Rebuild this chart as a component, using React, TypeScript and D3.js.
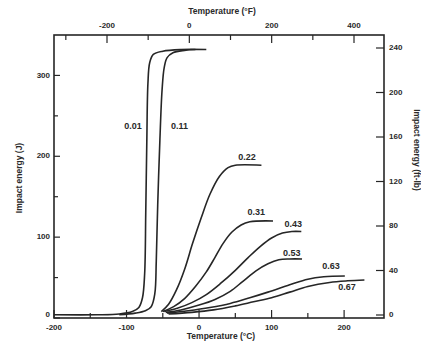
import React, { useEffect, useRef } from 'react';
import * as d3 from 'd3';

// carbon content labels (wt% C)
const carbon = ['0.01', '0.11', '0.22', '0.31', '0.43', '0.53', '0.63', '0.67'];

// [temperature °C, impact energy J]
const c001 = [[-200, 4], [-140, 4], [-110, 5], [-92, 8], [-83, 13], [-78, 25], [-75, 55], [-73.5, 130], [-72, 220], [-70.5, 290], [-68, 316], [-63, 326], [-50, 330], [-25, 332], [10, 332]];
const c011 = [[-110, 4], [-88, 6], [-74, 9], [-66, 14], [-61, 30], [-59, 70], [-57, 140], [-54, 220], [-51, 282], [-48, 310], [-44, 322], [-36, 328], [-20, 331], [-5, 332]];
const c022 = [[-52, 8], [-42, 17], [-31, 35], [-20, 60], [-9, 92], [3, 124], [15, 153], [28, 175], [40, 186], [50, 189], [86, 189]];
const c031 = [[-50, 8], [-35, 14], [-20, 24], [-5, 39], [10, 57], [22, 75], [33, 92], [45, 106], [58, 115], [70, 119], [102, 120]];
const c043 = [[-48, 8], [-30, 12], [-10, 19], [10, 29], [30, 43], [50, 59], [68, 75], [85, 89], [100, 99], [115, 105], [128, 107], [141, 107]];
const c053 = [[-46, 7], [-25, 10], [0, 16], [22, 23], [43, 33], [60, 45], [78, 58], [95, 67], [110, 72], [125, 73], [142, 73]];
const c063 = [[-44, 6], [-15, 9], [15, 13], [43, 18], [70, 25], [95, 32], [125, 41], [150, 48], [172, 51], [201, 52]];
const c067 = [[-42, 5], [-10, 7], [20, 10], [50, 15], [75, 20], [100, 25], [125, 32], [150, 39], [180, 44], [205, 46], [228, 47]];
const series = [c001, c011, c022, c031, c043, c053, c063, c067];

// where each label sits, in data units [°C, J]
const labelAt = [[-91, 237], [-27, 237], [66, 198], [79, 130], [130, 116], [128, 80], [182, 63], [204, 38]];

// axis ticks
const cTicks = [-200, -150, -100, -50, 0, 50, 100, 150, 200];
const cLabels = [-200, -100, 0, 100, 200];
const fTicks = [-300, -200, -100, 0, 100, 200, 300, 400];
const fLabels = [-200, 0, 200, 400];
const jTicks = [0, 50, 100, 150, 200, 250, 300];
const jLabels = [0, 100, 200, 300];
const ftTicks = [0, 40, 80, 120, 160, 200, 240];

const App = () => {
  const ref = useRef<SVGSVGElement>(null);

  useEffect(() => {
    const svg = d3.select(ref.current);
    svg.selectAll('*').remove();

    const ink = '#262626';
    const font = 'Liberation Sans, Arial, sans-serif';

    const x = d3.scaleLinear().domain([-200, 255]).range([54, 384]);
    const y = d3.scaleLinear().domain([0, 350]).range([318, 35]);
    const yFt = d3.scaleLinear().domain([0, 240]).range([315, 48]);
    const xF = d3.scaleLinear().domain([-200, 400]).range([107, 354]);

    svg.append('rect').attr('width', 421).attr('height', 344).attr('fill', '#fff');

    // frame
    svg.append('rect')
      .attr('x', x(-200)).attr('y', y(350))
      .attr('width', x(255) - x(-200)).attr('height', y(0) - y(350))
      .attr('fill', 'none').attr('stroke', ink).attr('stroke-width', 1.6);

    const g = svg.append('g').attr('stroke', ink).attr('stroke-width', 1.2);

    // bottom °C ticks (inward)
    cTicks.forEach(t => {
      const len = cLabels.includes(t) ? 8 : 5;
      g.append('line').attr('x1', x(t)).attr('x2', x(t)).attr('y1', y(0)).attr('y2', y(0) - len);
    });
    // top °F ticks (inward)
    fTicks.forEach(t => {
      const len = fLabels.includes(t) ? 8 : 5;
      g.append('line').attr('x1', xF(t)).attr('x2', xF(t)).attr('y1', y(350)).attr('y2', y(350) + len);
    });
    // left J ticks
    jTicks.forEach(t => {
      const len = jLabels.includes(t) ? 6 : 4;
      g.append('line').attr('x1', x(-200)).attr('x2', x(-200) + len).attr('y1', y(t)).attr('y2', y(t));
    });
    // right ft-lb ticks
    ftTicks.forEach(t => {
      g.append('line').attr('x1', x(255)).attr('x2', x(255) - 8).attr('y1', yFt(t)).attr('y2', yFt(t));
    });

    const labels = svg.append('g').attr('opacity', 0.98);
    const txt = (px: number, py: number, s: string, anchor = 'middle', size = 8) =>
      labels.append('text')
        .attr('x', px).attr('y', py)
        .attr('text-anchor', anchor)
        .attr('dominant-baseline', 'middle')
        .attr('font-family', font)
        .attr('font-size', size)
        .attr('font-weight', 'bold')
        .attr('fill', ink)
        .text(s);

    cLabels.forEach(t => txt(x(t), y(0) + 10, String(t)));
    fLabels.forEach(t => txt(xF(t), y(350) - 9, String(t)));
    jLabels.forEach(t => txt(x(-200) - 4, y(t) - (t === 0 ? 3 : 0), String(t), 'end'));
    ftTicks.forEach(t => txt(x(255) + 5, yFt(t), String(t), 'start'));

    txt(221, 337, 'Temperature (°C)', 'middle', 8.5);
    txt(222, 12, 'Temperature (°F)', 'middle', 8.5);
    txt(20, 178, 'Impact energy (J)', 'middle', 8.5).attr('transform', 'rotate(-90 20 178)');
    txt(416, 150, 'Impact energy (ft-lb)', 'middle', 8.5).attr('transform', 'rotate(90 416 150)');

    // curves
    const line = d3.line<number[]>()
      .x(d => x(d[0]))
      .y(d => y(d[1]))
      .curve(d3.curveCatmullRom.alpha(0.5));

    series.forEach(s => {
      svg.append('path')
        .attr('d', line(s))
        .attr('fill', 'none')
        .attr('stroke', ink)
        .attr('stroke-width', 1.6)
        .attr('stroke-linejoin', 'round');
    });

    carbon.forEach((c, i) => {
      const [lt, lj] = labelAt[i];
      txt(x(lt), y(lj), c, 'middle', 9);
    });
  }, []);

  return (
    <svg
      ref={ref}
      width={421}
      height={344}
      style={{ position: 'absolute', left: 0, top: 0 }}
    />
  );
};

export default App;
